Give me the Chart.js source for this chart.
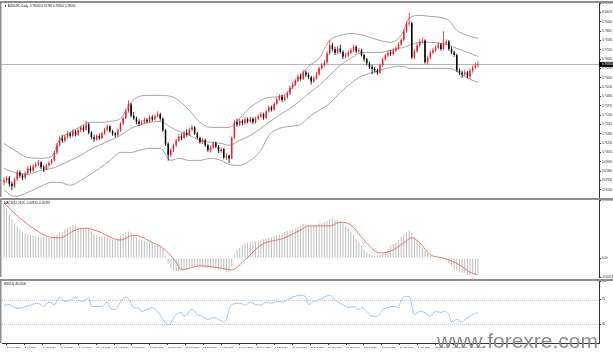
<!DOCTYPE html>
<html>
<head>
<meta charset="utf-8">
<title>AUDUSD Daily</title>
<script src="https://cdn.jsdelivr.net/npm/chart.js@4.4.1/dist/chart.umd.min.js"></script>
<style>
  html, body { margin: 0; padding: 0; background: #fff; }
  #wrap { position: relative; width: 613px; height: 353px; overflow: hidden; }
  #wrap canvas { position: absolute; left: 0; }
  #mark { position: absolute; left: 437px; top: 330px; font: 21px/21px "Liberation Sans", Arial, sans-serif; color: #8b8b8b; white-space: nowrap; }
</style>
</head>
<body>
<div id="wrap">
  <canvas id="priceChart" width="613" height="198" style="top:0"></canvas>
  <canvas id="macdChart" width="613" height="80" style="top:198px"></canvas>
  <canvas id="rsiChart" width="613" height="76" style="top:277px"></canvas>
  <div id="mark">www.forexre.com</div>
</div>
<script>
// prices are in 1/10000 (pips), bar index 0..179
var opens = [
  6860, 6873, 6890, 6851, 6833, 6880, 6927, 6905, 6893, 6922,
  6954, 6940, 6968, 6981, 6995, 6962, 6948, 6975, 6990, 7008,
  7060, 7110, 7157, 7140, 7168, 7190, 7175, 7205, 7183, 7211,
  7230, 7215, 7251, 7195, 7165, 7150, 7172, 7158, 7190, 7215,
  7238, 7205, 7190, 7177, 7210, 7255, 7292, 7340, 7386, 7310,
  7292, 7270, 7255, 7265, 7282, 7270, 7299, 7285, 7305, 7319,
  7290, 7211, 7120, 7042, 7076, 7110, 7142, 7170, 7160, 7195,
  7180, 7215, 7231, 7190, 7160, 7130, 7145, 7110, 7076, 7095,
  7123, 7100, 7070, 7085, 7028, 7040, 7022, 7160, 7265, 7250,
  7275, 7260, 7285, 7270, 7290, 7265, 7290, 7305, 7320, 7295,
  7340, 7366, 7350, 7390, 7420, 7440, 7415, 7435, 7460, 7500,
  7520, 7548, 7575, 7560, 7602, 7585, 7570, 7540, 7562, 7590,
  7630, 7650, 7670, 7730, 7785, 7760, 7735, 7764, 7740, 7710,
  7717, 7735, 7751, 7775, 7745, 7751, 7720, 7690, 7663, 7640,
  7625, 7616, 7600, 7650, 7690, 7717, 7735, 7725, 7750, 7764,
  7790, 7820, 7880, 7930, 7935, 7703, 7745, 7785, 7810, 7818,
  7670, 7700, 7735, 7751, 7770, 7790, 7760, 7798, 7810, 7760,
  7737, 7720, 7616, 7602, 7590, 7602, 7575, 7615, 7636, 7650
];
var highs = [
  6895, 6905, 6902, 6866, 6892, 6945, 6940, 6918, 6935, 6970,
  6972, 6980, 6998, 7010, 7003, 6975, 6985, 7002, 7020, 7072,
  7125, 7170, 7180, 7182, 7205, 7200, 7218, 7215, 7225, 7242,
  7245, 7276, 7262, 7205, 7180, 7185, 7190, 7200, 7228, 7252,
  7245, 7215, 7200, 7222, 7268, 7305, 7355, 7414, 7395, 7335,
  7305, 7285, 7280, 7298, 7295, 7312, 7315, 7320, 7340, 7330,
  7300, 7220, 7130, 7090, 7122, 7155, 7185, 7190, 7210, 7220,
  7230, 7245, 7240, 7200, 7170, 7160, 7155, 7120, 7108, 7136,
  7135, 7112, 7098, 7092, 7055, 7050, 7170, 7280, 7290, 7290,
  7285, 7300, 7298, 7305, 7300, 7303, 7320, 7335, 7330, 7352,
  7380, 7378, 7402, 7435, 7455, 7452, 7450, 7475, 7512, 7535,
  7560, 7590, 7595, 7618, 7615, 7600, 7580, 7578, 7605, 7642,
  7665, 7685, 7745, 7820, 7800, 7775, 7780, 7790, 7752, 7735,
  7750, 7768, 7790, 7785, 7768, 7762, 7730, 7700, 7675, 7652,
  7640, 7628, 7662, 7705, 7730, 7750, 7755, 7765, 7780, 7805,
  7835, 7895, 7945, 8007, 7945, 7760, 7800, 7825, 7838, 7825,
  7715, 7750, 7765, 7785, 7805, 7800, 7880, 7825, 7820, 7775,
  7750, 7728, 7630, 7615, 7618, 7612, 7628, 7650, 7668, 7678
];
var lows = [
  6838, 6858, 6830, 6806, 6821, 6868, 6890, 6874, 6880, 6910,
  6925, 6930, 6955, 6970, 6950, 6930, 6940, 6962, 6978, 7000,
  7048, 7100, 7125, 7130, 7155, 7160, 7165, 7170, 7172, 7198,
  7200, 7208, 7185, 7150, 7132, 7140, 7145, 7150, 7180, 7205,
  7195, 7175, 7162, 7168, 7200, 7245, 7285, 7330, 7298, 7280,
  7252, 7240, 7245, 7255, 7258, 7262, 7272, 7278, 7298, 7275,
  7200, 7105, 7006, 7030, 7065, 7098, 7130, 7145, 7150, 7168,
  7172, 7205, 7180, 7150, 7120, 7118, 7098, 7065, 7062, 7085,
  7090, 7058, 7060, 7015, 7010, 6991, 7015, 7150, 7235, 7240,
  7245, 7250, 7258, 7260, 7252, 7255, 7280, 7295, 7282, 7285,
  7330, 7338, 7342, 7380, 7410, 7400, 7405, 7425, 7450, 7490,
  7510, 7538, 7545, 7550, 7570, 7555, 7520, 7530, 7552, 7580,
  7620, 7640, 7660, 7720, 7745, 7720, 7725, 7728, 7692, 7698,
  7705, 7725, 7740, 7732, 7735, 7710, 7675, 7650, 7625, 7590,
  7600, 7585, 7592, 7640, 7680, 7705, 7712, 7715, 7740, 7755,
  7780, 7810, 7870, 7915, 7690, 7690, 7735, 7770, 7795, 7660,
  7655, 7690, 7725, 7740, 7760, 7748, 7752, 7785, 7748, 7725,
  7708, 7605, 7585, 7565, 7578, 7563, 7560, 7600, 7625, 7635
];
var closes = [
  6873, 6890, 6851, 6833, 6880, 6927, 6905, 6893, 6922, 6954,
  6940, 6968, 6981, 6995, 6962, 6948, 6975, 6990, 7008, 7060,
  7110, 7157, 7140, 7168, 7190, 7175, 7205, 7183, 7211, 7230,
  7215, 7251, 7195, 7165, 7150, 7172, 7158, 7190, 7215, 7238,
  7205, 7190, 7177, 7210, 7255, 7292, 7340, 7386, 7310, 7292,
  7270, 7255, 7265, 7282, 7270, 7299, 7285, 7305, 7319, 7290,
  7211, 7120, 7042, 7076, 7110, 7142, 7170, 7160, 7195, 7180,
  7215, 7231, 7190, 7160, 7130, 7145, 7110, 7076, 7095, 7123,
  7100, 7070, 7085, 7028, 7040, 7022, 7160, 7265, 7250, 7275,
  7260, 7285, 7270, 7290, 7265, 7290, 7305, 7320, 7295, 7340,
  7366, 7350, 7390, 7420, 7440, 7415, 7435, 7460, 7500, 7520,
  7548, 7575, 7560, 7602, 7585, 7570, 7540, 7562, 7590, 7630,
  7650, 7670, 7730, 7785, 7760, 7735, 7764, 7740, 7710, 7717,
  7735, 7751, 7775, 7745, 7751, 7720, 7690, 7663, 7640, 7625,
  7616, 7600, 7650, 7690, 7717, 7735, 7725, 7750, 7764, 7790,
  7820, 7880, 7930, 7935, 7703, 7745, 7785, 7810, 7818, 7670,
  7700, 7735, 7751, 7770, 7790, 7760, 7798, 7810, 7760, 7737,
  7720, 7616, 7602, 7590, 7602, 7575, 7615, 7636, 7650, 7656
];

// Bollinger bands (20,2) at these bars
var bbIdx = [0, 4, 9, 14, 18, 21, 25, 29, 32, 36,
  40, 44, 48, 51, 55, 59, 63, 66, 70, 74,
  78, 82, 85, 89, 93, 97, 100, 104, 108, 112,
  115, 119, 123, 127, 131, 134, 138, 142, 146, 149,
  151, 153, 157, 161, 165, 168, 171, 174, 176, 179];
var bbUpper = [7123, 7076, 7028, 7022, 7035, 7150, 7197, 7238, 7265, 7265,
  7271, 7292, 7400, 7440, 7447, 7447, 7440, 7413, 7346, 7265,
  7231, 7231, 7231, 7292, 7366, 7413, 7433, 7440, 7481, 7575,
  7643, 7697, 7818, 7852, 7865, 7859, 7839, 7818, 7805, 7832,
  7886, 7967, 7987, 7980, 7973, 7953, 7886, 7859, 7845, 7832];
var bbMiddle = [6954, 6927, 6914, 6941, 6954, 6974, 7008, 7042, 7076, 7110,
  7143, 7177, 7224, 7245, 7265, 7271, 7231, 7204, 7177, 7143,
  7130, 7123, 7110, 7143, 7177, 7224, 7265, 7312, 7359, 7413,
  7460, 7514, 7582, 7650, 7697, 7730, 7737, 7737, 7751, 7764,
  7771, 7785, 7805, 7805, 7798, 7785, 7764, 7744, 7730, 7710];
var bbLower = [6806, 6765, 6792, 6833, 6860, 6860, 6840, 6873, 6907, 6954,
  7008, 7062, 7062, 7076, 7089, 7089, 7008, 7022, 7008, 7008,
  7022, 7008, 6981, 6974, 7008, 7076, 7177, 7224, 7238, 7251,
  7298, 7346, 7393, 7467, 7528, 7568, 7595, 7616, 7636, 7643,
  7643, 7629, 7629, 7629, 7629, 7629, 7609, 7575, 7555, 7535];

// MACD(12,26,9), 1/10000 units
var macdHist = [
  120, 108, 95, 84, 75, 68, 62, 57, 54, 52,
  50, 49, 48, 47, 46, 45, 44, 44, 45, 46,
  50, 55, 58, 62, 66, 69, 72, 71, 68, 66,
  65, 66, 64, 58, 52, 49, 47, 46, 46, 46,
  44, 41, 39, 42, 48, 53, 57, 58, 56, 50,
  45, 42, 40, 38, 36, 35, 33, 30, 28, 26,
  20, 5, -12, -22, -27, -29, -30, -28, -26, -24,
  -21, -19, -18, -19, -20, -21, -22, -22, -23, -22,
  -24, -26, -27, -28, -30, -31, -18, 8, 17, 22,
  28, 32, 34, 36, 35, 36, 38, 40, 41, 43,
  44, 45, 48, 50, 52, 54, 57, 59, 60, 62,
  65, 68, 71, 74, 73, 72, 70, 70, 72, 75,
  76, 78, 80, 85, 86, 84, 83, 80, 76, 70,
  64, 57, 50, 42, 34, 26, 18, 12, 8, 6,
  5, 5, 6, 9, 14, 20, 26, 30, 34, 40,
  46, 52, 57, 60, 55, 45, 38, 30, 22, 15,
  10, 5, 2, 0, -2, -3, -4, -6, -12, -18,
  -24, -28, -30, -32, -34, -36, -37, -36, -35, -33
];
var macdSigIdx = [0, 6, 11, 17, 21, 27, 31, 36, 44, 49,
  55, 61, 65, 67, 74, 82, 86, 91, 97, 106,
  112, 115, 123, 127, 131, 136, 142, 146, 151, 154,
  157, 161, 166, 172, 176, 179];
var macdSignal = [120, 87, 65, 46, 44, 61, 65, 57, 39, 50,
  37, 17, -9, -26, -17, -22, -26, -4, 28, 44,
  61, 70, 70, 78, 72, 39, 11, 15, 33, 44,
  33, 7, 0, -15, -31, -37];

// RSI(14)
var rsiIdx = [0, 2, 4, 6, 8, 10, 12, 14, 15, 17,
  19, 21, 23, 25, 27, 29, 31, 32, 33, 35,
  37, 39, 40, 42, 44, 46, 47, 49, 51, 52,
  54, 56, 58, 60, 62, 63, 65, 67, 68, 71,
  73, 75, 77, 79, 81, 83, 84, 85, 86, 89,
  91, 93, 95, 97, 99, 101, 103, 105, 107, 109,
  112, 114, 115, 117, 119, 121, 123, 124, 126, 128,
  130, 132, 134, 135, 137, 139, 141, 143, 145, 147,
  149, 150, 152, 153, 155, 157, 159, 161, 163, 165,
  166, 168, 169, 171, 173, 175, 177, 179];
var rsiValues = [61, 62, 57, 56, 59, 61, 64, 62, 59, 66,
  62, 74, 67, 69, 74, 67, 70, 74, 59, 59,
  59, 66, 57, 54, 66, 74, 72, 57, 56, 51,
  54, 57, 51, 38, 30, 33, 46, 49, 43, 54,
  46, 43, 38, 41, 38, 34, 38, 54, 62, 64,
  61, 66, 62, 61, 66, 64, 67, 66, 70, 74,
  77, 74, 62, 67, 70, 74, 77, 74, 66, 62,
  57, 59, 54, 57, 51, 43, 43, 54, 57, 59,
  57, 70, 75, 75, 46, 51, 49, 43, 51, 49,
  51, 46, 34, 38, 34, 41, 46, 49];

var dateLabels = ['24 Jun 2020', '2 Jul 2020', '14 Jul 2020', '24 Jul 2020', '5 Aug 2020',
  '17 Aug 2020', '27 Aug 2020', '8 Sep 2020', '18 Sep 2020', '30 Sep 2020',
  '12 Oct 2020', '22 Oct 2020', '3 Nov 2020', '13 Nov 2020', '25 Nov 2020',
  '7 Dec 2020', '17 Dec 2020', '29 Dec 2020', '11 Jan 2021', '21 Jan 2021',
  '2 Feb 2021', '12 Feb 2021', '24 Feb 2021', '8 Mar 2021', '18 Mar 2021',
  '30 Mar 2021', '9 Apr 2021'];
var priceTicks = ['0.80700', '0.80070', '0.79440', '0.78810', '0.78180', '0.77550', '0.76920',
  '0.76290', '0.75660', '0.75030', '0.74400', '0.73770', '0.73140', '0.72510', '0.71880',
  '0.71250', '0.70620', '0.69990', '0.69360', '0.68730', '0.68100'];
var macdTicks = ['0.012640', '0.00', '-0.004140'];
var rsiTicks = ['100', '70', '30'];

var P = function (v) { return v / 10000; };
var last = closes.length - 1;
var FONT = '"Liberation Sans", Arial, sans-serif';
var XMIN = -0.755, XMAX = 224.7;
var BULL = '#e8202a', BEAR = '#000000';

// frame, title, price line, levels
var panePlugin = {
  id: 'pane',
  beforeDatasetsDraw: function (chart, args, opts) {
    var ctx = chart.ctx, a = chart.chartArea, y = chart.scales.y;
    ctx.save();
    ctx.lineWidth = 1;
    if (opts.levels) {
      ctx.strokeStyle = '#c6c6c6';
      ctx.setLineDash([1, 1]);
      opts.levels.forEach(function (v) {
        var py = Math.round(y.getPixelForValue(v)) + 0.5;
        ctx.beginPath(); ctx.moveTo(a.left, py); ctx.lineTo(a.right, py); ctx.stroke();
      });
    }
    if (opts.price) {
      var py = Math.round(y.getPixelForValue(opts.price)) + 0.5;
      ctx.setLineDash([]);
      ctx.strokeStyle = '#b4b4b4';
      ctx.beginPath(); ctx.moveTo(0, py); ctx.lineTo(a.right, py); ctx.stroke();
    }
    ctx.restore();
  },
  afterDraw: function (chart, args, opts) {
    var ctx = chart.ctx, a = chart.chartArea;
    ctx.save();
    ctx.fillStyle = '#8d8d8d';
    ctx.fillRect(0, a.top - 2, chart.width, 2);
    ctx.fillRect(0, a.top, 1.5, a.bottom - a.top);
    ctx.font = '3px ' + FONT;
    ctx.fillStyle = '#111';
    ctx.textBaseline = 'top';
    ctx.textAlign = 'left';
    ctx.fillText(opts.title, a.left + 2, a.top + 1.5);
    if (opts.price) {
      var py = chart.scales.y.getPixelForValue(opts.price);
      ctx.fillStyle = '#000';
      ctx.fillRect(a.right, py - 2.5, chart.width - a.right, 5);
      ctx.fillStyle = '#fff';
      ctx.textBaseline = 'middle';
      ctx.fillText(opts.price.toFixed(5), a.right + 3, py);
    }
    ctx.restore();
  }
};

function hiddenX() {
  return { type: 'linear', min: XMIN, max: XMAX, offset: false, display: false };
}

function rightAxis(min, max, labels, values) {
  return {
    type: 'linear', position: 'right', min: min, max: max,
    afterBuildTicks: function (s) { s.ticks = values.map(function (v) { return { value: v }; }); },
    ticks: {
      autoSkip: false, padding: 1, color: '#333', font: { size: 2.8, family: FONT },
      callback: function (v, i) { return labels[i]; }
    },
    grid: { drawOnChartArea: false, tickLength: 2, color: '#333' },
    border: { color: '#333', width: 1 },
    afterFit: function (s) { s.width = 14; s.paddingTop = 0; s.paddingBottom = 0; }
  };
}

function bandLine(vals) {
  return {
    type: 'line', order: 2,
    data: bbIdx.map(function (x, k) { return { x: x, y: P(vals[k]) }; }),
    borderColor: '#8e8e8e', borderWidth: 0.8, pointRadius: 0,
    cubicInterpolationMode: 'monotone', fill: false
  };
}

var candleColors = closes.map(function (c, i) { return c >= opens[i] ? BULL : BEAR; });

new Chart(document.getElementById('priceChart'), {
  type: 'bar',
  data: {
    datasets: [
      {
        order: 0, grouped: false, maxBarThickness: 1.5, minBarLength: 1,
        data: closes.map(function (c, i) { return { x: i, y: [P(opens[i]), P(c)] }; }),
        backgroundColor: candleColors
      },
      {
        order: 1, grouped: false, maxBarThickness: 0.8,
        data: highs.map(function (h, i) { return { x: i, y: [P(lows[i]), P(h)] }; }),
        backgroundColor: candleColors
      },
      bandLine(bbUpper), bandLine(bbMiddle), bandLine(bbLower)
    ]
  },
  options: {
    responsive: false, animation: false, events: [],
    layout: { padding: { top: 3, left: 2, right: 0, bottom: 1 } },
    plugins: {
      legend: { display: false }, tooltip: { enabled: false },
      pane: {
        title: '\u25BC AUDUSD,Daily  ' + [opens, highs, lows, closes].map(function (s) { return P(s[last]).toFixed(5); }).join(' '),
        price: P(closes[last])
      }
    },
    scales: {
      x: hiddenX(),
      y: rightAxis(0.6761, 0.80705, priceTicks, priceTicks.map(parseFloat))
    }
  },
  plugins: [panePlugin]
});

new Chart(document.getElementById('macdChart'), {
  type: 'bar',
  data: {
    datasets: [
      {
        type: 'line', order: 0,
        data: macdSigIdx.map(function (x, k) { return { x: x, y: P(macdSignal[k]) }; }),
        borderColor: '#e26a6a', borderWidth: 0.9, pointRadius: 0,
        cubicInterpolationMode: 'monotone', fill: false
      },
      {
        order: 1, grouped: false, maxBarThickness: 1,
        data: macdHist.map(function (v, i) { return { x: i, y: P(v) }; }),
        backgroundColor: '#bdbdbd'
      }
    ]
  },
  options: {
    responsive: false, animation: false, events: [],
    layout: { padding: { top: 2, left: 2, right: 0, bottom: 1 } },
    plugins: {
      legend: { display: false }, tooltip: { enabled: false },
      pane: { title: 'MACD(12,26,9) ' + P(macdHist[last]).toFixed(5) + ' ' + P(macdSignal[macdSignal.length - 1]).toFixed(5) }
    },
    scales: {
      x: hiddenX(),
      y: rightAxis(-0.00414, 0.01264, macdTicks, [0.01264, 0, -0.00414])
    }
  },
  plugins: [panePlugin]
});

new Chart(document.getElementById('rsiChart'), {
  type: 'line',
  data: {
    datasets: [{
      data: rsiIdx.map(function (x, k) { return { x: x, y: rsiValues[k] }; }),
      borderColor: '#94bde6', borderWidth: 0.9, pointRadius: 0,
      cubicInterpolationMode: 'monotone', fill: false
    }]
  },
  options: {
    responsive: false, animation: false, events: [],
    layout: { padding: { top: 4, left: 2, right: 0, bottom: 0 } },
    plugins: {
      legend: { display: false }, tooltip: { enabled: false },
      pane: { title: 'RSI(14) ' + rsiValues[rsiValues.length - 1].toFixed(4), levels: [70, 30] }
    },
    scales: {
      x: {
        type: 'linear', min: XMIN, max: XMAX, offset: false,
        afterBuildTicks: function (s) {
          s.ticks = dateLabels.map(function (d, k) { return { value: 1.13 + k * 6.741 }; });
        },
        ticks: {
          autoSkip: false, maxRotation: 0, minRotation: 0, align: 'start', padding: 1,
          color: '#333', font: { size: 2.5, family: FONT },
          callback: function (v, i) { return dateLabels[i]; }
        },
        grid: { drawOnChartArea: false, tickLength: 2, color: '#333' },
        border: { color: '#333', width: 1 },
        afterFit: function (s) { s.height = 10; s.paddingLeft = 0; s.paddingRight = 0; }
      },
      y: rightAxis(0, 100, rsiTicks, [100, 70, 30])
    }
  },
  plugins: [panePlugin]
});
</script>
</body>
</html>
